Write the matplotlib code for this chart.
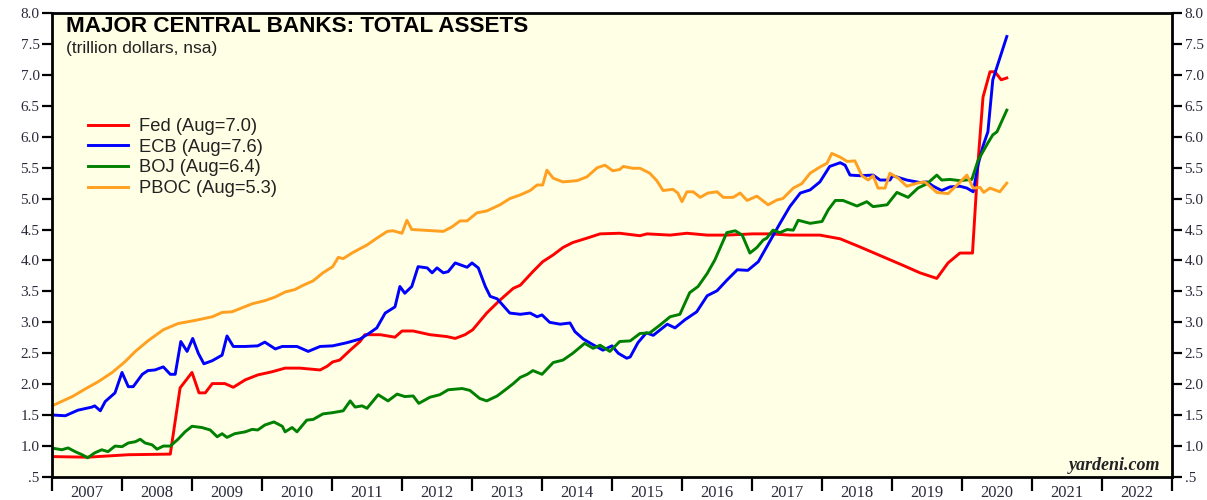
import matplotlib
matplotlib.use("Agg")
import matplotlib.pyplot as plt
from matplotlib.ticker import FixedLocator, NullFormatter, FixedFormatter

# ---- data (decimal year, trillion dollars) ----
fed_t = [2007.00, 2007.51, 2008.09, 2008.69, 2008.83, 2009.00, 2009.10, 2009.19, 2009.29, 2009.47,
         2009.59, 2009.76, 2009.94, 2010.14, 2010.33, 2010.54, 2010.83, 2010.93, 2011.01, 2011.11,
         2011.26, 2011.40, 2011.47, 2011.69, 2011.90, 2012.00, 2012.16, 2012.40, 2012.64, 2012.76,
         2012.90, 2013.01, 2013.21, 2013.40, 2013.59, 2013.69, 2013.87, 2014.01, 2014.16, 2014.30,
         2014.44, 2014.64, 2014.83, 2015.11, 2015.40, 2015.50, 2015.83, 2016.07, 2016.36, 2016.64,
         2017.01, 2017.26, 2017.54, 2017.97, 2018.26, 2018.54, 2018.87, 2019.16, 2019.40, 2019.64,
         2019.80, 2019.97, 2020.15, 2020.23, 2020.30, 2020.40, 2020.47, 2020.56, 2020.64]
fed_v = [0.83, 0.82, 0.86, 0.87, 1.94, 2.19, 1.86, 1.86, 2.01, 2.01,
         1.95, 2.07, 2.15, 2.20, 2.26, 2.26, 2.23, 2.29, 2.36, 2.39,
         2.55, 2.69, 2.80, 2.80, 2.76, 2.86, 2.86, 2.80, 2.77, 2.74,
         2.80, 2.88, 3.15, 3.36, 3.55, 3.60, 3.82, 3.98, 4.09, 4.21,
         4.29, 4.36, 4.43, 4.44, 4.40, 4.43, 4.41, 4.44, 4.41, 4.41,
         4.43, 4.43, 4.41, 4.41, 4.35, 4.22, 4.06, 3.92, 3.80, 3.71,
         3.96, 4.12, 4.12, 5.60, 6.64, 7.05, 7.05, 6.92, 6.95]

ecb_t = [2007.04, 2007.19, 2007.37, 2007.57, 2007.61, 2007.69, 2007.76, 2007.90, 2008.00, 2008.09,
         2008.16, 2008.29, 2008.37, 2008.47, 2008.59, 2008.69, 2008.76, 2008.84, 2008.93, 2009.01,
         2009.09, 2009.17, 2009.29, 2009.43, 2009.50, 2009.59, 2009.76, 2009.94, 2010.04, 2010.19,
         2010.29, 2010.50, 2010.66, 2010.83, 2011.01, 2011.21, 2011.40, 2011.54, 2011.64, 2011.76,
         2011.90, 2011.97, 2012.04, 2012.14, 2012.23, 2012.36, 2012.43, 2012.50, 2012.59, 2012.66,
         2012.76, 2012.93, 2013.00, 2013.09, 2013.19, 2013.26, 2013.36, 2013.54, 2013.69, 2013.83,
         2013.93, 2014.00, 2014.11, 2014.26, 2014.40, 2014.47, 2014.59, 2014.71, 2014.87, 2015.00,
         2015.09, 2015.21, 2015.26, 2015.37, 2015.49, 2015.59, 2015.79, 2015.90, 2016.04, 2016.21,
         2016.36, 2016.50, 2016.64, 2016.79, 2016.94, 2017.09, 2017.21, 2017.30, 2017.40, 2017.54,
         2017.69, 2017.83, 2017.97, 2018.11, 2018.26, 2018.33, 2018.40, 2018.54, 2018.73, 2018.83,
         2018.97, 2019.01, 2019.21, 2019.40, 2019.50, 2019.59, 2019.71, 2019.83, 2019.97, 2020.07,
         2020.16, 2020.23, 2020.30, 2020.37, 2020.44, 2020.50, 2020.64]
ecb_v = [1.50, 1.49, 1.58, 1.63, 1.65, 1.57, 1.72, 1.86, 2.19, 1.96,
         1.96, 2.16, 2.22, 2.23, 2.28, 2.16, 2.16, 2.69, 2.53, 2.74,
         2.50, 2.33, 2.38, 2.47, 2.78, 2.61, 2.61, 2.62, 2.68, 2.57,
         2.61, 2.61, 2.53, 2.61, 2.62, 2.67, 2.73, 2.83, 2.91, 3.15,
         3.25, 3.58, 3.47, 3.58, 3.90, 3.88, 3.80, 3.88, 3.80, 3.82,
         3.96, 3.89, 3.96, 3.88, 3.58, 3.42, 3.38, 3.15, 3.13, 3.15,
         3.09, 3.12, 3.00, 2.97, 2.99, 2.85, 2.73, 2.65, 2.55, 2.62,
         2.50, 2.42, 2.44, 2.67, 2.83, 2.79, 2.97, 2.91, 3.04, 3.17,
         3.43, 3.51, 3.68, 3.85, 3.84, 3.98, 4.22, 4.40, 4.60, 4.87,
         5.09, 5.14, 5.27, 5.52, 5.58, 5.54, 5.38, 5.37, 5.38, 5.30,
         5.30, 5.37, 5.30, 5.26, 5.27, 5.20, 5.13, 5.19, 5.20, 5.17,
         5.11, 5.55, 5.85, 6.08, 6.92, 7.13, 7.62]

boj_t = [2007.04, 2007.14, 2007.23, 2007.33, 2007.43, 2007.51, 2007.61, 2007.71, 2007.80, 2007.90,
         2008.00, 2008.09, 2008.19, 2008.26, 2008.33, 2008.43, 2008.50, 2008.59, 2008.69, 2008.80,
         2008.90, 2009.00, 2009.14, 2009.26, 2009.36, 2009.43, 2009.50, 2009.61, 2009.76, 2009.86,
         2009.94, 2010.04, 2010.17, 2010.29, 2010.33, 2010.43, 2010.50, 2010.64, 2010.73, 2010.87,
         2011.01, 2011.16, 2011.26, 2011.33, 2011.43, 2011.50, 2011.66, 2011.80, 2011.93, 2012.04,
         2012.16, 2012.24, 2012.40, 2012.54, 2012.66, 2012.86, 2012.97, 2013.11, 2013.21, 2013.36,
         2013.50, 2013.59, 2013.69, 2013.79, 2013.87, 2014.00, 2014.16, 2014.30, 2014.44, 2014.61,
         2014.73, 2014.83, 2014.97, 2015.11, 2015.26, 2015.40, 2015.54, 2015.69, 2015.83, 2015.97,
         2016.11, 2016.23, 2016.36, 2016.47, 2016.64, 2016.76, 2016.86, 2016.97, 2017.07, 2017.16,
         2017.21, 2017.30, 2017.40, 2017.50, 2017.59, 2017.66, 2017.83, 2018.00, 2018.09, 2018.19,
         2018.30, 2018.50, 2018.64, 2018.73, 2018.93, 2019.07, 2019.23, 2019.37, 2019.50, 2019.64,
         2019.71, 2019.83, 2019.97, 2020.14, 2020.23, 2020.37, 2020.44, 2020.50, 2020.64]
boj_v = [0.96, 0.94, 0.97, 0.91, 0.86, 0.81, 0.89, 0.94, 0.91, 1.00,
         0.99, 1.05, 1.07, 1.11, 1.05, 1.02, 0.95, 1.00, 1.00, 1.11,
         1.23, 1.32, 1.30, 1.26, 1.15, 1.20, 1.14, 1.20, 1.23, 1.27,
         1.26, 1.34, 1.39, 1.32, 1.23, 1.30, 1.23, 1.42, 1.43, 1.52,
         1.54, 1.57, 1.73, 1.63, 1.65, 1.61, 1.83, 1.73, 1.84, 1.80,
         1.81, 1.69, 1.79, 1.83, 1.91, 1.93, 1.90, 1.77, 1.73, 1.81,
         1.93, 2.01, 2.11, 2.16, 2.22, 2.16, 2.35, 2.39, 2.50, 2.66,
         2.58, 2.63, 2.53, 2.69, 2.70, 2.82, 2.83, 2.96, 3.09, 3.13,
         3.48, 3.58, 3.79, 4.01, 4.45, 4.48, 4.41, 4.12, 4.21, 4.33,
         4.36, 4.49, 4.45, 4.50, 4.49, 4.65, 4.60, 4.63, 4.82, 4.97,
         4.97, 4.88, 4.95, 4.87, 4.90, 5.10, 5.02, 5.17, 5.24, 5.38,
         5.30, 5.31, 5.29, 5.31, 5.62, 5.90, 6.03, 6.08, 6.43]

pboc_t = [2007.00, 2007.29, 2007.47, 2007.66, 2007.86, 2008.04, 2008.19, 2008.37, 2008.59, 2008.80,
          2009.04, 2009.29, 2009.43, 2009.57, 2009.66, 2009.86, 2010.04, 2010.19, 2010.33, 2010.47,
          2010.59, 2010.73, 2010.87, 2011.01, 2011.09, 2011.16, 2011.30, 2011.50, 2011.64, 2011.79,
          2011.87, 2012.00, 2012.07, 2012.14, 2012.30, 2012.44, 2012.59, 2012.71, 2012.83, 2012.93,
          2013.07, 2013.21, 2013.40, 2013.54, 2013.69, 2013.83, 2013.93, 2014.01, 2014.07, 2014.16,
          2014.30, 2014.50, 2014.64, 2014.79, 2014.90, 2015.01, 2015.11, 2015.16, 2015.30, 2015.40,
          2015.54, 2015.64, 2015.73, 2015.87, 2015.94, 2016.00, 2016.07, 2016.16, 2016.26, 2016.37,
          2016.50, 2016.59, 2016.73, 2016.83, 2016.93, 2017.07, 2017.23, 2017.36, 2017.44, 2017.59,
          2017.71, 2017.83, 2017.97, 2018.07, 2018.14, 2018.26, 2018.36, 2018.47, 2018.57, 2018.66,
          2018.73, 2018.80, 2018.90, 2018.97, 2019.09, 2019.21, 2019.36, 2019.47, 2019.64, 2019.80,
          2019.93, 2020.07, 2020.16, 2020.26, 2020.31, 2020.40, 2020.54, 2020.64]
pboc_v = [1.65, 1.80, 1.92, 2.04, 2.19, 2.36, 2.53, 2.70, 2.88, 2.98,
          3.03, 3.09, 3.16, 3.17, 3.21, 3.30, 3.35, 3.41, 3.49, 3.53,
          3.60, 3.67, 3.80, 3.90, 4.05, 4.03, 4.13, 4.25, 4.36, 4.47,
          4.48, 4.44, 4.65, 4.50, 4.49, 4.48, 4.47, 4.54, 4.64, 4.64,
          4.77, 4.80, 4.90, 5.00, 5.06, 5.13, 5.22, 5.22, 5.46, 5.33,
          5.27, 5.29, 5.35, 5.50, 5.54, 5.45, 5.47, 5.52, 5.49, 5.49,
          5.41, 5.29, 5.13, 5.15, 5.09, 4.95, 5.11, 5.11, 5.02, 5.09,
          5.11, 5.02, 5.02, 5.09, 4.97, 5.04, 4.90, 4.98, 5.00, 5.17,
          5.24, 5.41, 5.51, 5.57, 5.73, 5.67, 5.60, 5.61, 5.37, 5.30,
          5.37, 5.17, 5.17, 5.41, 5.33, 5.20, 5.25, 5.27, 5.10, 5.08,
          5.22, 5.38, 5.17, 5.18, 5.10, 5.17, 5.11, 5.25]

series_labels = ["Fed (Aug=7.0)", "ECB (Aug=7.6)", "BOJ (Aug=6.4)", "PBOC (Aug=5.3)"]
series_colors = ["#FF0000", "#0000FF", "#008000", "#FFA020"]

years = list(range(2007, 2023))
year_labels = [str(y) for y in years]
y_ticks = [0.5, 1.0, 1.5, 2.0, 2.5, 3.0, 3.5, 4.0, 4.5, 5.0, 5.5, 6.0, 6.5, 7.0, 7.5, 8.0]
y_tick_labels = [".5", "1.0", "1.5", "2.0", "2.5", "3.0", "3.5", "4.0", "4.5", "5.0",
                 "5.5", "6.0", "6.5", "7.0", "7.5", "8.0"]

# ---- figure ----
W, H = 1207, 500
fig = plt.figure(figsize=(W / 100, H / 100), dpi=100)
fig.patch.set_facecolor("white")
ax = fig.add_axes([52 / W, 1 - 477 / H, 1120 / W, 464 / H])
ax.set_facecolor("#FFFFE6")

for t, v, lab, c in zip([fed_t, ecb_t, boj_t, pboc_t], [fed_v, ecb_v, boj_v, pboc_v],
                        series_labels, series_colors):
    ax.plot(t, v, color=c, lw=2.1, label=lab, solid_joinstyle="round")

ax.set_xlim(2007, 2023)
ax.set_ylim(0.5, 8.0)

serif = ["Liberation Serif", "DejaVu Serif"]
sans = ["Liberation Sans", "DejaVu Sans"]
tick_color = "#2a2a3a"

# y ticks on both sides
ax.yaxis.set_major_locator(FixedLocator(y_ticks))
ax.yaxis.set_major_formatter(FixedFormatter(y_tick_labels))
ax.tick_params(axis="y", which="major", direction="out", length=7, width=1.6,
               left=True, right=True, labelleft=True, labelright=True,
               labelsize=11, labelcolor=tick_color, pad=2)
for lbl in ax.get_yticklabels():
    lbl.set_fontfamily(serif)

# x ticks: marks at year starts, labels centred in year
ax.xaxis.set_major_locator(FixedLocator(years + [2023]))
ax.xaxis.set_major_formatter(NullFormatter())
ax.xaxis.set_minor_locator(FixedLocator([y + 0.5 for y in years]))
ax.xaxis.set_minor_formatter(FixedFormatter(year_labels))
ax.tick_params(axis="x", which="major", direction="out", length=10, width=1.6)
ax.tick_params(axis="x", which="minor", length=0, labelsize=12,
               labelcolor=tick_color, pad=6)
for lbl in ax.get_xticklabels(minor=True):
    lbl.set_fontfamily(serif)

for s in ax.spines.values():
    s.set_linewidth(2.0)
    s.set_color("black")

# titles
ax.text(14 / 1120, 1 - 14 / 464, "MAJOR CENTRAL BANKS: TOTAL ASSETS", transform=ax.transAxes,
        fontsize=16.2, fontweight="bold", family=sans, va="center", ha="left", color="black")
ax.text(14 / 1120, 1 - 35 / 464, "(trillion dollars, nsa)", transform=ax.transAxes,
        fontsize=12.5, family=sans, va="center", ha="left", color="#222222")

leg = ax.legend(loc="upper left", bbox_to_anchor=(36 / 1120, 1 - 105 / 464), frameon=False,
                prop={"family": sans, "size": 13.2}, handlelength=2.2, handletextpad=0.6,
                labelspacing=0.2, borderpad=0, borderaxespad=0)
for line in leg.get_lines():
    line.set_linewidth(2.1)
for txt in leg.get_texts():
    txt.set_color("#222222")

ax.text(1 - 12 / 1120, 12 / 464, "yardeni.com", transform=ax.transAxes, fontsize=13,
        fontweight="bold", style="italic", family=serif, ha="right", va="center", color="#222222")

fig.savefig("out.png", dpi=100, facecolor="white")
